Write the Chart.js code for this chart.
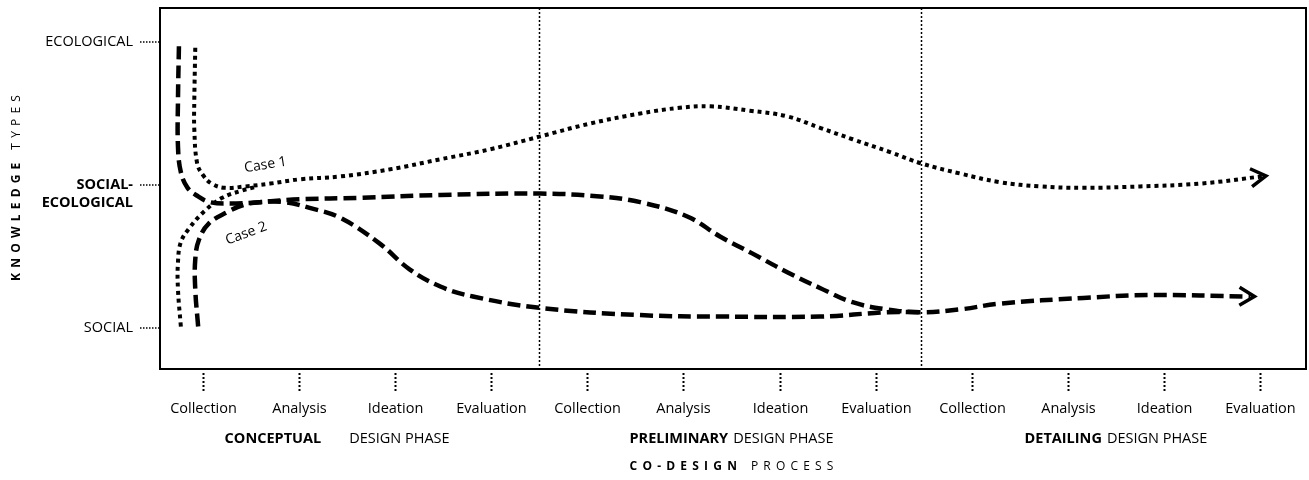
<!DOCTYPE html>
<html>
<head>
<meta charset="utf-8">
<script src="https://cdn.jsdelivr.net/npm/chart.js@4.4.0/dist/chart.umd.min.js"></script>
<style>
  body { margin: 0; background: #fff; }
</style>
</head>
<body>
<canvas id="chart" width="1309" height="480"></canvas>
<script>
// steps of the co-design process (x = 0..11), knowledge levels (y = 0..2)
const stepLabels = ['Collection', 'Analysis', 'Ideation', 'Evaluation',
                    'Collection', 'Analysis', 'Ideation', 'Evaluation',
                    'Collection', 'Analysis', 'Ideation', 'Evaluation'];
const phaseNames = ['CONCEPTUAL', 'PRELIMINARY', 'DETAILING'];
const phaseBounds = [3.5, 7.47];
const levelValues = [0, 1, 2];
const levelLabels = [['SOCIAL'], ['SOCIAL-', 'ECOLOGICAL'], ['ECOLOGICAL']];

// Case 1 (dotted): curve coming down from ecological, running on to the end
const case1Top = [
  [-0.08, 1.96], [-0.09, 1.59], [-0.09, 1.39], [-0.06, 1.15], [0, 1.07],
  [0.09, 1.01], [0.23, 0.98], [0.44, 0.99], [0.70, 1.01], [1.01, 1.04],
  [1.43, 1.06], [1.95, 1.11], [2.47, 1.18], [2.99, 1.25], [3.51, 1.34],
  [4.03, 1.43], [4.55, 1.50], [4.96, 1.54], [5.28, 1.55], [5.69, 1.52],
  [6.08, 1.48], [6.42, 1.40], [6.76, 1.32], [7.15, 1.23], [7.48, 1.15],
  [7.88, 1.08], [8.29, 1.02], [8.71, 0.99], [9.16, 0.98], [9.75, 0.99],
  [10.38, 1.01], [11.02, 1.06]
];
// Case 1 (dotted): curve rising from social into the main line
const case1Bottom = [
  [-0.23, 0.01], [-0.26, 0.27], [-0.26, 0.46], [-0.23, 0.60],
  [-0.14, 0.70], [0.02, 0.82], [0.20, 0.91], [0.40, 0.96], [0.57, 0.99]
];
// Case 2 (dashed): curve coming down from ecological, running on to the end
const case2Top = [
  [-0.25, 1.97], [-0.26, 1.59], [-0.26, 1.27], [-0.23, 1.09], [-0.16, 0.98],
  [-0.05, 0.92], [0.07, 0.88], [0.28, 0.87], [0.59, 0.88], [1.01, 0.90],
  [1.63, 0.91], [2.47, 0.93], [3.51, 0.94], [4.13, 0.92], [4.55, 0.88],
  [5.04, 0.78], [5.38, 0.64], [5.72, 0.52], [6.08, 0.39], [6.42, 0.28],
  [6.76, 0.18], [7.12, 0.13], [7.46, 0.11], [7.88, 0.13], [8.29, 0.17],
  [9.16, 0.21], [9.85, 0.23], [10.90, 0.22]
];
// Case 2 (dashed): curve rising from social, then dropping back
const case2Bottom = [
  [-0.05, 0.01], [-0.08, 0.27], [-0.08, 0.48], [-0.04, 0.62],
  [0.06, 0.73], [0.25, 0.81], [0.42, 0.86], [0.59, 0.88], [0.85, 0.88],
  [1.11, 0.84], [1.43, 0.77], [1.84, 0.59], [2.15, 0.41], [2.47, 0.29],
  [2.81, 0.22], [3.51, 0.14], [4.55, 0.09], [5.38, 0.08], [6.42, 0.08],
  [7.12, 0.11], [7.46, 0.11]
];

const FONT = '"Open Sans", sans-serif';
const toXY = arr => arr.map(p => ({x: p[0], y: p[1]}));

function line(data, dash, width) {
  return {
    data: toXY(data),
    showLine: true,
    borderColor: '#000',
    borderWidth: width,
    borderDash: dash,
    borderCapStyle: 'butt',
    pointRadius: 0,
    tension: 0.4,
    fill: false
  };
}

// draw text letter by letter with extra spacing, return width
function spacedWidth(ctx, text, gap) {
  let w = 0;
  for (const ch of text) w += ctx.measureText(ch).width + gap;
  return w - gap;
}
function drawSpaced(ctx, text, x, y, gap) {
  for (const ch of text) {
    ctx.fillText(ch, x, y);
    x += ctx.measureText(ch).width + gap;
  }
  return x;
}

function arrowHead(ctx, xs, ys, pts) {
  const n = pts.length;
  const x1 = xs.getPixelForValue(pts[n - 1][0]), y1 = ys.getPixelForValue(pts[n - 1][1]);
  const x0 = xs.getPixelForValue(pts[n - 2][0]), y0 = ys.getPixelForValue(pts[n - 2][1]);
  const ang = Math.atan2(y1 - y0, x1 - x0);
  ctx.save();
  ctx.translate(x1 + 4 * Math.cos(ang), y1 + 4 * Math.sin(ang));
  ctx.rotate(ang);
  ctx.setLineDash([]);
  ctx.lineWidth = 3.5;
  ctx.lineJoin = 'miter';
  ctx.beginPath();
  ctx.moveTo(-15, -9);
  ctx.lineTo(0, 0);
  ctx.lineTo(-15, 9);
  ctx.stroke();
  ctx.restore();
}

const decor = {
  id: 'decor',
  beforeDatasetsDraw(chart) {
    const {ctx, chartArea: a, scales: {x}} = chart;
    ctx.save();
    ctx.strokeStyle = '#000';
    ctx.lineWidth = 1.5;
    ctx.setLineDash([2, 2]);
    phaseBounds.forEach(b => {
      const px = Math.round(x.getPixelForValue(b)) + 0.5;
      ctx.beginPath();
      ctx.moveTo(px, a.top);
      ctx.lineTo(px, a.bottom);
      ctx.stroke();
    });
    ctx.restore();
  },
  afterDatasetsDraw(chart) {
    const {ctx, chartArea: a, scales: {x, y}} = chart;
    ctx.save();
    ctx.fillStyle = '#000';
    ctx.strokeStyle = '#000';

    // arrow heads
    arrowHead(ctx, x, y, case1Top);
    arrowHead(ctx, x, y, case2Top);

    // frame
    ctx.setLineDash([]);
    ctx.lineWidth = 2;
    ctx.strokeRect(a.left, a.top, a.right - a.left, a.bottom - a.top);

    // y levels with dotted leaders
    ctx.textAlign = 'right';
    ctx.textBaseline = 'middle';
    levelValues.forEach((v, i) => {
      const py = y.getPixelForValue(v);
      ctx.setLineDash([1.5, 1.5]);
      ctx.lineWidth = 1.5;
      ctx.beginPath();
      ctx.moveTo(140, py);
      ctx.lineTo(a.left - 1, py);
      ctx.stroke();
      const lines = levelLabels[i];
      ctx.font = (lines.length > 1 ? 'bold ' : '') + '14.5px ' + FONT;
      lines.forEach((t, k) => ctx.fillText(t, 133, py + k * 18));
    });

    // x steps: dotted tick + label
    ctx.textAlign = 'center';
    ctx.font = '14.5px ' + FONT;
    stepLabels.forEach((lab, i) => {
      const px = Math.round(x.getPixelForValue(i)) + 0.5;
      ctx.setLineDash([2, 2]);
      ctx.lineWidth = 2;
      ctx.beginPath();
      ctx.moveTo(px, a.bottom + 4);
      ctx.lineTo(px, a.bottom + 23);
      ctx.stroke();
      ctx.fillText(lab, px, a.bottom + 40);
    });

    // phase names
    const gaps = [28, 5, 5];
    phaseNames.forEach((name, i) => {
      const cx = x.getPixelForValue(i * 4 + 1.5) - (i === 0 ? 10 : 0);
      ctx.font = 'bold 14.5px ' + FONT;
      const w1 = ctx.measureText(name).width;
      ctx.font = '14.5px ' + FONT;
      const w2 = ctx.measureText('DESIGN PHASE').width;
      let sx = cx - (w1 + gaps[i] + w2) / 2;
      ctx.textAlign = 'left';
      ctx.font = 'bold 14.5px ' + FONT;
      ctx.fillText(name, sx, a.bottom + 70);
      ctx.font = '14.5px ' + FONT;
      ctx.fillText('DESIGN PHASE', sx + w1 + gaps[i], a.bottom + 70);
    });

    // x title
    ctx.textAlign = 'left';
    const xt1 = 'CO-DESIGN', xt2 = 'PROCESS';
    ctx.font = 'bold 12px ' + FONT;
    const tw1 = spacedWidth(ctx, xt1, 5.2);
    ctx.font = '12px ' + FONT;
    const tw2 = spacedWidth(ctx, xt2, 5.2);
    let tx = x.getPixelForValue(5.5) - (tw1 + 14 + tw2) / 2;
    ctx.font = 'bold 12px ' + FONT;
    drawSpaced(ctx, xt1, tx, a.bottom + 98, 5.2);
    ctx.font = '12px ' + FONT;
    drawSpaced(ctx, xt2, tx + tw1 + 14, a.bottom + 98, 5.2);

    // y title (rotated)
    ctx.save();
    ctx.translate(17, 188);
    ctx.rotate(-Math.PI / 2);
    const yt1 = 'KNOWLEDGE', yt2 = 'TYPES';
    ctx.font = 'bold 12px ' + FONT;
    const yw1 = spacedWidth(ctx, yt1, 5.2);
    ctx.font = '12px ' + FONT;
    const yw2 = spacedWidth(ctx, yt2, 5.2);
    let ty = -(yw1 + 13 + yw2) / 2;
    ctx.font = 'bold 12px ' + FONT;
    drawSpaced(ctx, yt1, ty, 0, 5.2);
    ctx.font = '12px ' + FONT;
    drawSpaced(ctx, yt2, ty + yw1 + 13, 0, 5.2);
    ctx.restore();

    // case annotations
    ctx.font = '14px ' + FONT;
    ctx.textAlign = 'center';
    [['Case 1', 0.65, 1.14, -0.16], ['Case 2', 0.45, 0.66, -0.36]].forEach(c => {
      ctx.save();
      ctx.translate(x.getPixelForValue(c[1]), y.getPixelForValue(c[2]));
      ctx.rotate(c[3]);
      ctx.fillText(c[0], 0, 0);
      ctx.restore();
    });
    ctx.restore();
  }
};

new Chart(document.getElementById('chart').getContext('2d'), {
  type: 'scatter',
  data: {
    datasets: [
      line(case1Top, [4, 4], 4),
      line(case1Bottom, [4, 4], 4),
      line(case2Top, [13, 6], 4.5),
      line(case2Bottom, [13, 6], 4.5)
    ]
  },
  options: {
    responsive: false,
    animation: false,
    layout: { padding: { left: 160, right: 3, top: 8, bottom: 111 } },
    plugins: { legend: { display: false }, tooltip: { enabled: false } },
    scales: {
      x: { type: 'linear', min: -0.447, max: 11.478, display: false },
      y: { type: 'linear', min: -0.287, max: 2.238, display: false }
    }
  },
  plugins: [decor]
});
</script>
</body>
</html>
